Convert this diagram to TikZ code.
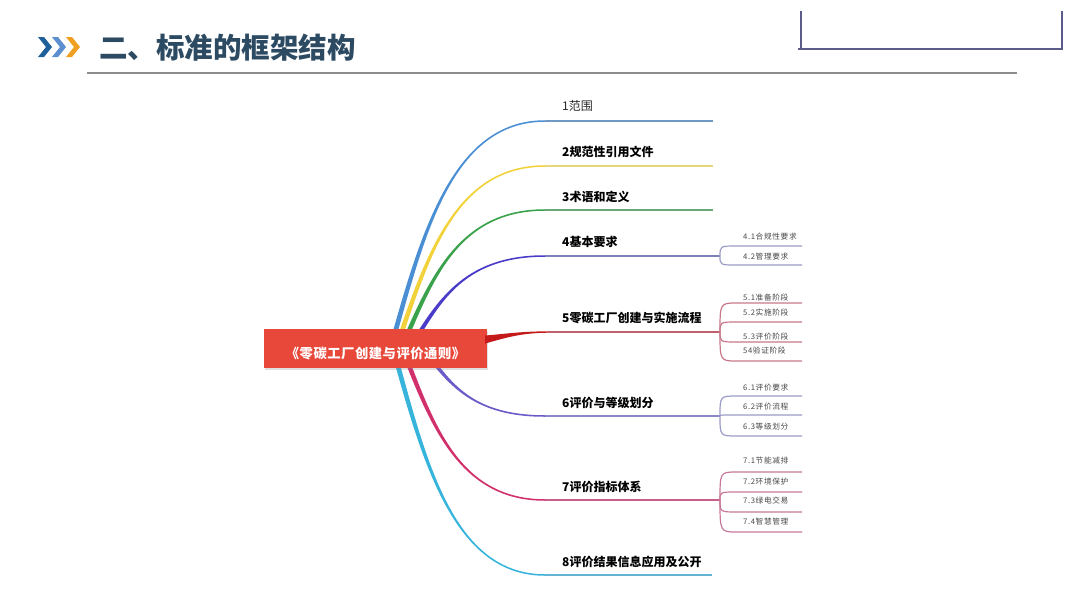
\documentclass[tikz,border=0pt]{standalone}
\usepackage{fontspec}
\setmainfont{Noto Sans CJK SC}
\usetikzlibrary{calc,shadows}
\definecolor{titlecol}{HTML}{2C4A62}
\definecolor{chevA}{HTML}{1F5F9A}
\definecolor{chevB}{HTML}{5B8FD0}
\definecolor{chevC}{HTML}{F0A020}
\definecolor{rulegray}{HTML}{8C8C8C}
\definecolor{bracketcol}{HTML}{5C5C8A}
\definecolor{rootred}{HTML}{E8483A}
\definecolor{cA}{HTML}{4A8FD4}\definecolor{lA}{HTML}{7099C4}
\definecolor{cB}{HTML}{F2D23A}\definecolor{lB}{HTML}{E6D77A}
\definecolor{cC}{HTML}{3AA24A}\definecolor{lC}{HTML}{6AA878}
\definecolor{cD}{HTML}{4A3CC8}\definecolor{lD}{HTML}{8080B8}
\definecolor{cE}{HTML}{C41A1A}\definecolor{lE}{HTML}{C0606E}
\definecolor{cF}{HTML}{6A5CC8}\definecolor{lF}{HTML}{8A88C4}
\definecolor{cG}{HTML}{D2306C}\definecolor{lG}{HTML}{C8608A}
\definecolor{cH}{HTML}{36B4DC}\definecolor{lH}{HTML}{62B4D2}
\definecolor{subP}{HTML}{9C9CC8}
\definecolor{subR}{HTML}{C8788A}
\definecolor{subM}{HTML}{C8789A}
\definecolor{subtext}{HTML}{484848}
% tapered mind-map curve: color, start, end, start half width, sign
\newcommand\mmcurve[5]{%
  \coordinate (mmS) at (#2);
  \coordinate (mmE) at (#3);
  \coordinate (mmP) at ($(mmS)!0.2!(mmE)$);
  \coordinate (mmQ) at ($(mmS)!0.5!(mmE)$);
  \coordinate (mmA) at (mmP |- mmQ);
  \coordinate (mmR) at ($(mmS)!0.4!(mmE)$);
  \coordinate (mmB) at (mmR |- mmE);
  \fill[#1] ($(mmS)+({#5*#4},0)$) .. controls ($(mmA)+({#5*#4*0.85},0)$) and ($(mmB)+(0,-1)$) .. ($(mmE)+(0,-0.75)$)
    -- ($(mmE)+(0,0.75)$) .. controls ($(mmB)+(0,1)$) and ($(mmA)+({-#5*#4*0.85},0)$) .. ($(mmS)+({-#5*#4},0)$) -- cycle;
}
\begin{document}
\begin{tikzpicture}[x=1pt,y=-1pt,
  mainlab/.style={anchor=west,inner sep=0pt,font=\fontsize{12}{14}\selectfont\bfseries,text=black},
  mainlabreg/.style={anchor=west,inner sep=0pt,font=\fontsize{12}{14}\selectfont,text=black!85},
  sublab/.style={anchor=west,inner sep=0pt,font=\fontsize{7.7}{9}\selectfont\addfontfeatures{LetterSpace=8},text=subtext},
  hline/.style={line width=1.3pt},
  subline/.style={line width=1.2pt}]
\useasboundingbox (0,0) rectangle (1080,608);
\fill[white] (0,0) rectangle (1080,608);

% header
\fill[chevA] (38,37) -- (44,37) -- (52,47) -- (44,57) -- (38,57) -- (46,47) -- cycle;
\fill[chevB] (52,37) -- (58,37) -- (66,47) -- (58,57) -- (52,57) -- (60,47) -- cycle;
\fill[chevC] (66,37) -- (72,37) -- (80,47) -- (72,57) -- (66,57) -- (74,47) -- cycle;
\node[anchor=west,inner sep=0pt,font=\fontsize{28.5}{31}\selectfont\bfseries,text=titlecol] (title) at (99,48) {二、标准的框架结构};
\draw[rulegray,line width=1.3pt] (87,73) -- (1017,73);
\draw[bracketcol,line width=1.1pt] (801,11) -- (801,48);
\draw[bracketcol,line width=1.1pt] (1062,11) -- (1062,48);
\draw[bracketcol,line width=2pt] (798,48.5) -- (1063,48.5);

% branch coordinates
\coordinate (a1) at (393,340); \coordinate (e1) at (545,121); \coordinate (f1) at (713,121);
\coordinate (a2) at (399,340); \coordinate (e2) at (545,166); \coordinate (f2) at (713,166);
\coordinate (a3) at (405,340); \coordinate (e3) at (545,210); \coordinate (f3) at (713,210);
\coordinate (a4) at (415,340); \coordinate (e4) at (545,256); \coordinate (b4) at (720,256);
\coordinate (e5) at (548,332); \coordinate (b5) at (720,332);
\coordinate (a6) at (428,355); \coordinate (e6) at (545,416); \coordinate (b6) at (720,416);
\coordinate (a7) at (405,355); \coordinate (e7) at (545,500); \coordinate (b7) at (720,500);
\coordinate (a8) at (395,355); \coordinate (e8) at (545,575); \coordinate (f8) at (712,575);

\mmcurve{cA}{a1}{e1}{2.5}{-1}
\mmcurve{cB}{a2}{e2}{2.5}{-1}
\mmcurve{cC}{a3}{e3}{2.5}{-1}
\mmcurve{cD}{a4}{e4}{2.5}{-1}
\mmcurve{cF}{a6}{e6}{2.5}{1}
\mmcurve{cG}{a7}{e7}{2.5}{1}
\mmcurve{cH}{a8}{e8}{2.5}{1}

\draw[lA,hline] (e1) -- (f1);
\draw[lB,hline] (e2) -- (f2);
\draw[lC,hline] (e3) -- (f3);
\draw[lD,hline] (e4) -- (b4);
\draw[lE,hline] (e5) -- (b5);
\draw[lF,hline] (e6) -- (b6);
\draw[lG,hline] (e7) -- (b7);
\draw[lH,hline] (e8) -- (f8);

% root
\node[draw=none,fill=rootred,minimum width=223pt,minimum height=39pt,inner sep=0pt,
      drop shadow={shadow xshift=1pt,shadow yshift=-1.5pt,opacity=0.25}] (root) at (375.5,348.5) {};
\node[inner sep=0pt,font=\fontsize{13.3}{15}\selectfont\bfseries\addfontfeatures{LetterSpace=4},text=white] (roottxt) at ($(root.center)+(0,5)$) {《零碳工厂创建与评价通则》};
\coordinate (r5a) at ($(root.east)+(-2,-13)$);
\coordinate (r5b) at ($(root.east)+(-2,-5)$);
\fill[cE] (r5a) .. controls (505,334) and (520,331.4) .. ($(e5)+(0,-0.7)$) -- ($(e5)+(0,0.7)$) .. controls (520,333) and (505,338) .. (r5b) -- cycle;

% main labels
\node[mainlabreg] (l1) at (562,106) {1范围};
\node[mainlab] (l2) at (562,152) {2规范性引用文件};
\node[mainlab] (l3) at (562,197) {3术语和定义};
\node[mainlab] (l4) at (562,242) {4基本要求};
\node[mainlab] (l5) at (562,318) {5零碳工厂创建与实施流程};
\node[mainlab] (l6) at (562,403) {6评价与等级划分};
\node[mainlab] (l7) at (562,487) {7评价指标体系};
\node[mainlab] (l8) at (562,562) {8评价结果信息应用及公开};

% sub branches
\foreach \i/\ly/\ty/\txt in {41/246/237/4.1合规性要求,42/265/257/4.2管理要求}{
  \coordinate (t\i) at (737,\ly); \coordinate (u\i) at (802,\ly);
  \draw[subP,subline] (b4) .. controls (b4 |- t\i) .. (t\i) -- (u\i);
  \node[sublab] (s\i) at (743,\ty) {\txt};
}
\foreach \i/\ly/\ty/\txt in {51/303/298/5.1准备阶段,52/322/313/5.2实施阶段,53/342/337/5.3评价阶段,54/361/351/54验证阶段}{
  \coordinate (t\i) at (737,\ly); \coordinate (u\i) at (802,\ly);
  \draw[subR,subline] (b5) .. controls (b5 |- t\i) .. (t\i) -- (u\i);
  \node[sublab] (s\i) at (743,\ty) {\txt};
}
\foreach \i/\ly/\ty/\txt in {61/396/388/6.1评价要求,62/415/407/6.2评价流程,63/436/427/6.3等级划分}{
  \coordinate (t\i) at (737,\ly); \coordinate (u\i) at (802,\ly);
  \draw[subP,subline] (b6) .. controls (b6 |- t\i) .. (t\i) -- (u\i);
  \node[sublab] (s\i) at (743,\ty) {\txt};
}
\foreach \i/\ly/\ty/\txt in {71/472/461/7.1节能减排,72/492/482/7.2环境保护,73/512/501/7.3绿电交易,74/532/522/7.4智慧管理}{
  \coordinate (t\i) at (737,\ly); \coordinate (u\i) at (802,\ly);
  \draw[subM,subline] (b7) .. controls (b7 |- t\i) .. (t\i) -- (u\i);
  \node[sublab] (s\i) at (743,\ty) {\txt};
}
\end{tikzpicture}
\end{document}
